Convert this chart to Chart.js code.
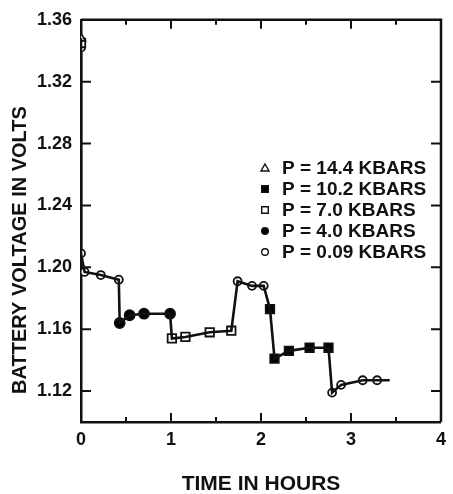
<!DOCTYPE html>
<html>
<head>
<meta charset="utf-8">
<script src="https://cdn.jsdelivr.net/npm/chart.js@4/dist/chart.umd.min.js"></script>
<style>
    html, body { margin: 0; padding: 0; background: #fff; }
    #wrap { width: 453px; height: 494px; }
</style>
</head>
<body>
<div id="wrap"><canvas id="chart-js"></canvas></div>
<script>
// values (time in hours, volts)
const legendLabels = ['P = 14.4 KBARS', 'P = 10.2 KBARS', 'P = 7.0 KBARS', 'P = 4.0 KBARS', 'P = 0.09 KBARS'];
const yTitle = 'BATTERY VOLTAGE IN VOLTS';

const p144Time = [0];
const p144Volt = [1.348];
const p102Time = [2.10, 2.15, 2.31, 2.54, 2.75];
const p102Volt = [1.173, 1.141, 1.146, 1.148, 1.148];
const p70Time = [0, 1.01, 1.16, 1.43, 1.67];
const p70Volt = [1.345, 1.154, 1.155, 1.158, 1.159];
const p40Time = [0.43, 0.54, 0.70, 0.99];
const p40Volt = [1.164, 1.169, 1.170, 1.170];
const p009Time = [0, 0, 0.04, 0.22, 0.42, 1.74, 1.90, 2.03, 2.79, 2.89, 3.13, 3.29];
const p009Volt = [1.342, 1.209, 1.197, 1.195, 1.192, 1.191, 1.188, 1.188, 1.119, 1.124, 1.127, 1.127];

// the drawn curve through all readings, in time order
const traceTime = [0, 0, 0, 0, 0.04, 0.22, 0.42, 0.43, 0.54, 0.70, 0.99, 1.01, 1.16, 1.43, 1.67, 1.74, 1.90, 2.03, 2.10, 2.15, 2.31, 2.54, 2.75, 2.79, 2.89, 3.13, 3.29, 3.43];
const traceVolt = [1.348, 1.345, 1.342, 1.209, 1.197, 1.195, 1.192, 1.164, 1.169, 1.170, 1.170, 1.154, 1.155, 1.158, 1.159, 1.191, 1.188, 1.188, 1.173, 1.141, 1.146, 1.148, 1.148, 1.119, 1.124, 1.127, 1.127, 1.127];

const xTicks = [0, 1, 2, 3, 4];
const xMinorTicks = [0.5, 1.5, 2.5, 3.5];
const yTicks = [1.12, 1.16, 1.20, 1.24, 1.28, 1.32, 1.36];

const zip = (t, v) => t.map((x, i) => ({ x: x, y: v[i] }));

const markerStyles = [
    { pointStyle: 'triangle', pointRadius: 5, backgroundColor: '#fff' },
    { pointStyle: 'rect', pointRadius: 6, backgroundColor: '#000' },
    { pointStyle: 'rect', pointRadius: 6, backgroundColor: '#fff' },
    { pointStyle: 'circle', pointRadius: 5, backgroundColor: '#000' },
    { pointStyle: 'circle', pointRadius: 4, backgroundColor: '#fff' }
];
const groups = [zip(p144Time, p144Volt), zip(p102Time, p102Volt), zip(p70Time, p70Volt), zip(p40Time, p40Volt), zip(p009Time, p009Volt)];

const datasets = [{
    label: 'trace',
    data: zip(traceTime, traceVolt),
    showLine: true,
    borderColor: '#111',
    borderWidth: 2.6,
    pointRadius: 0,
    tension: 0
}];
groups.forEach((g, i) => {
    datasets.push({
        label: legendLabels[i],
        data: g,
        showLine: false,
        borderColor: '#111',
        borderWidth: 1.8,
        pointStyle: markerStyles[i].pointStyle,
        pointRadius: markerStyles[i].pointRadius,
        backgroundColor: markerStyles[i].backgroundColor
    });
});

// frame on top/right plus inward ticks, like the plotted figure
const framePlugin = {
    id: 'frame',
    beforeDatasetsDraw(chart) {
        const { ctx, chartArea: a, scales } = chart;
        ctx.save();
        ctx.strokeStyle = '#111';
        ctx.lineWidth = 2.5;
        ctx.beginPath();
        ctx.moveTo(a.left, a.top); ctx.lineTo(a.right, a.top); ctx.lineTo(a.right, a.bottom);
        ctx.stroke();
        ctx.lineWidth = 2;
        ctx.beginPath();
        xTicks.slice(1, -1).forEach(v => {
            const px = scales.x.getPixelForValue(v);
            ctx.moveTo(px, a.bottom); ctx.lineTo(px, a.bottom - 9);
            ctx.moveTo(px, a.top); ctx.lineTo(px, a.top + 9);
        });
        xMinorTicks.forEach(v => {
            const px = scales.x.getPixelForValue(v);
            ctx.moveTo(px, a.bottom); ctx.lineTo(px, a.bottom - 5);
            ctx.moveTo(px, a.top); ctx.lineTo(px, a.top + 5);
        });
        yTicks.slice(0, -1).forEach(v => {
            const py = scales.y.getPixelForValue(v);
            ctx.moveTo(a.left, py); ctx.lineTo(a.left + 10, py);
            ctx.moveTo(a.right, py); ctx.lineTo(a.right - 10, py);
        });
        ctx.stroke();

        // y title sits lower than the axis centre in the figure
        ctx.translate(20, 250);
        ctx.rotate(-Math.PI / 2);
        ctx.font = 'bold 20px "Liberation Sans", Arial, sans-serif';
        ctx.textAlign = 'center';
        ctx.textBaseline = 'middle';
        ctx.fillStyle = '#111';
        ctx.fillText(yTitle, 0, 0);
        ctx.restore();
    },
    afterDraw(chart) {
        const { ctx } = chart;
        ctx.save();
        ctx.font = 'bold 19px "Liberation Sans", Arial, sans-serif';
        ctx.textBaseline = 'middle';
        ctx.fillStyle = '#111';
        legendLabels.forEach((lab, i) => {
            const y = 168 + i * 21;
            const mx = 265;
            const st = markerStyles[i];
            ctx.beginPath();
            ctx.lineWidth = 1.4;
            ctx.strokeStyle = '#111';
            ctx.fillStyle = st.backgroundColor;
            if (st.pointStyle === 'circle') ctx.arc(mx, y, 3.3, 0, Math.PI * 2);
            else if (st.pointStyle === 'rect') ctx.rect(mx - 3.3, y - 3.3, 6.6, 6.6);
            else { ctx.moveTo(mx, y - 4); ctx.lineTo(mx + 4, y + 3); ctx.lineTo(mx - 4, y + 3); ctx.closePath(); }
            ctx.fill(); ctx.stroke();
            ctx.fillStyle = '#111';
            ctx.fillText(lab, 282, y + 1);
        });
        ctx.restore();
    }
};

const ctx = document.getElementById('chart-js');
new Chart(ctx, {
    type: 'scatter',
    data: { datasets: datasets },
    plugins: [framePlugin],
    options: {
        responsive: true,
        maintainAspectRatio: false,
        animation: false,
        layout: { padding: { top: 19, right: 7, left: 0, bottom: 0 } },
        plugins: { legend: { display: false }, tooltip: { enabled: false } },
        scales: {
            x: {
                type: 'linear',
                min: 0, max: 4,
                afterBuildTicks: axis => { axis.ticks = xTicks.map(v => ({ value: v })); },
                afterFit: axis => { axis.height = 72; },
                grid: { display: false, drawTicks: false },
                border: { display: true, color: '#111', width: 2.5 },
                ticks: {
                    color: '#111', padding: 7,
                    font: { family: '"Liberation Sans", Arial, sans-serif', size: 18, weight: 'bold' },
                    callback: v => String(v)
                },
                title: {
                    display: true, text: 'TIME IN HOURS', color: '#111',
                    padding: { top: 0, bottom: -3 },
                    font: { family: '"Liberation Sans", Arial, sans-serif', size: 21, weight: 'bold' }
                }
            },
            y: {
                type: 'linear',
                min: 1.10, max: 1.36,
                afterBuildTicks: axis => { axis.ticks = yTicks.map(v => ({ value: v })); },
                afterFit: axis => { axis.width = 81; },
                grid: { display: false, drawTicks: false },
                border: { display: true, color: '#111', width: 2.5 },
                ticks: {
                    color: '#111', padding: 9,
                    font: { family: '"Liberation Sans", Arial, sans-serif', size: 18, weight: 'bold' },
                    callback: v => Number(v).toFixed(2)
                },
                title: { display: false }
            }
        }
    }
});
</script>
</body>
</html>
